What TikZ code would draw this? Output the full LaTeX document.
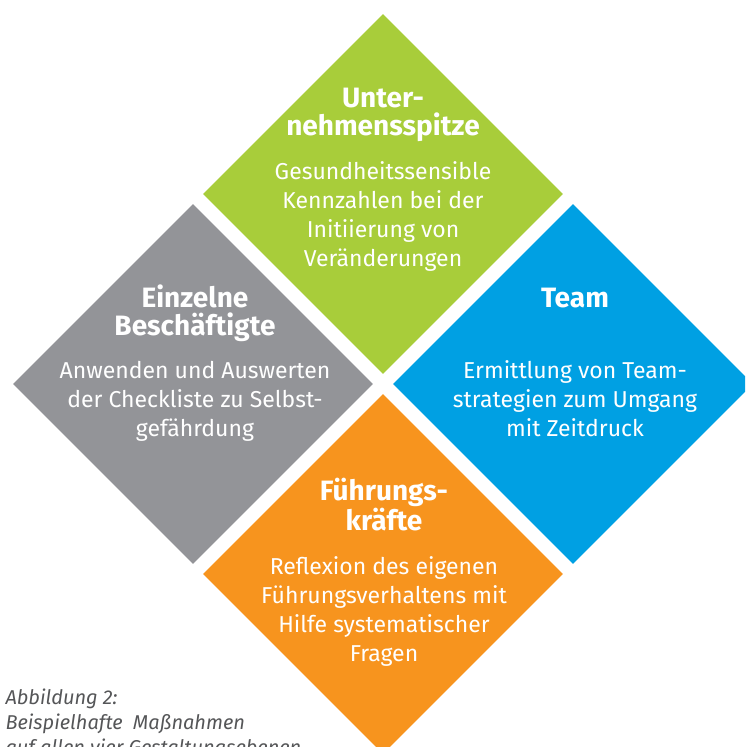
\documentclass[tikz,border=0pt]{standalone}
\usepackage{fontspec}
\setmainfont{Fira Sans}
\usepackage{xcolor}
\usetikzlibrary{shapes.geometric}

\definecolor{gruen}{RGB}{168,205,58}
\definecolor{grau}{RGB}{147,148,152}
\definecolor{blau}{RGB}{0,160,227}
\definecolor{orange}{RGB}{247,148,30}
\definecolor{schrift}{RGB}{85,86,88}

\tikzset{
  raute/.style={diamond, aspect=1, minimum size=360pt, inner sep=0pt, fill=#1},
  kopf/.style={text=white, font=\fontsize{28}{28.3}\selectfont\bfseries, align=center, anchor=base},
  inhalt/.style={text=white, font=\fontsize{23}{29}\selectfont, align=center, anchor=base},
  unterschrift/.style={text=schrift, font=\fontsize{20}{25}\selectfont\itshape, align=left, anchor=base west}
}

\begin{document}
\begin{tikzpicture}[x=1pt,y=-1pt]
        \useasboundingbox (0,0) rectangle (745,747);
        \clip (0,0) rectangle (745,747);

        % --- DIAMONDS ---
        \node[raute=gruen]  (spitze)   at (383,194) {};
        \node[raute=grau]   (einzeln)  at (193,384) {};
        \node[raute=blau]   (team)     at (573,384) {};
        \node[raute=orange] (fuehrung) at (383,574) {};

        % --- TOP: Unternehmensspitze ---
        \node[kopf]   (spitze-kopf) at (383,135.3) {Unter-\\nehmensspitze};
        \node[inhalt] (spitze-text) at (383,266.2) {Gesundheitssensible\\Kennzahlen bei der\\Initiierung von\\Veränderungen};

        % --- LEFT: Einzelne Beschaeftigte ---
        \node[kopf]   (einzeln-kopf) at (195,335.3) {Einzelne\\Beschäftigte};
        \node[inhalt] (einzeln-text) at (195,436.2) {Anwenden und Auswerten\\der Checkliste zu Selbst-\\gefährdung};

        % --- RIGHT: Team ---
        \node[kopf]   (team-kopf) at (575,307) {Team};
        \node[inhalt] (team-text) at (575,436.2) {Ermittlung von Team-\\strategien zum Umgang\\mit Zeitdruck};

        % --- BOTTOM: Fuehrungskraefte ---
        \node[kopf]   (fuehrung-kopf) at (384,530.3) {Führungs-\\kräfte};
        \node[inhalt] (fuehrung-text) at (384,661.2) {Reflexion des eigenen\\Führungsverhaltens mit\\Hilfe systematischer\\Fragen};

        % --- CAPTION ---
        \node[unterschrift] (abbildung) at (2,754.5) {Abbildung 2:\\Beispielhafte\ \ Maßnahmen\\auf allen vier Gestaltungsebenen};
    \end{tikzpicture}
\end{document}
